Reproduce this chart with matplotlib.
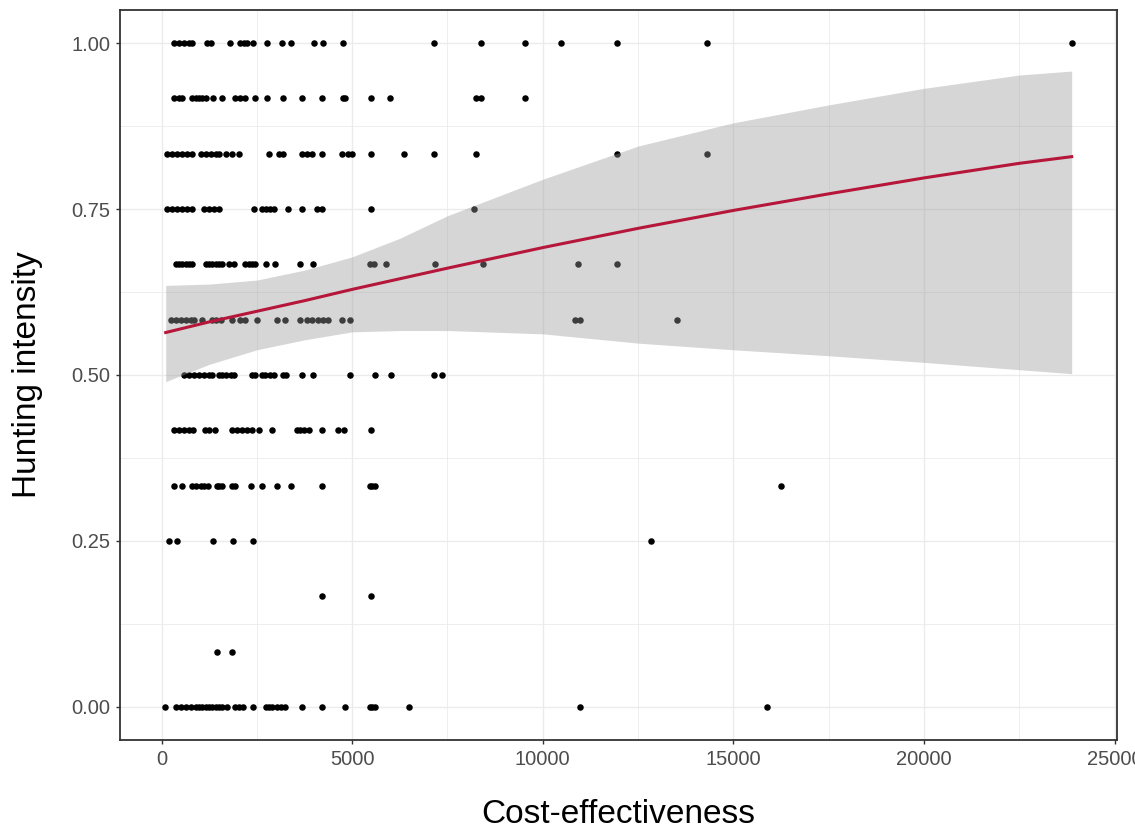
import numpy as np
import matplotlib.pyplot as plt
from matplotlib.ticker import MultipleLocator

plt.rcParams['font.family'] = ['Liberation Sans', 'DejaVu Sans']

# hunting intensity levels (rows of points) and the cost-effectiveness of each point
y_levels = [1.0, 0.917, 0.833, 0.75, 0.667, 0.583, 0.5, 0.417, 0.333, 0.25, 0.167, 0.083, 0.0]

x_100 = [331, 462, 592, 723, 809, 1200, 1287, 1809, 2070, 2158, 2245, 2401, 2767, 3158,
         3401, 4011, 4228, 4750, 7143, 8378, 9529, 10489, 11937, 14311, 23870]
x_092 = [331, 462, 548, 809, 896, 983, 1070, 1157, 1348, 1592, 1940, 2070, 2201, 2462,
         2767, 3175, 3680, 4220, 4768, 4811, 5490, 5985, 8248, 8378, 9529]
x_083 = [157, 287, 418, 548, 679, 809, 1026, 1157, 1287, 1418, 1505, 1679, 1853, 2027,
         2810, 3071, 3175, 3680, 3811, 3941, 4202, 4742, 4898, 4985, 5490, 6360, 7143,
         8248, 11937, 14311]
x_075 = [157, 270, 418, 548, 679, 809, 1113, 1244, 1375, 1505, 2419, 2636, 2740, 2854,
         2940, 3315, 3680, 4072, 4202, 5490, 8204]
x_067 = [374, 462, 548, 634, 723, 809, 1157, 1244, 1331, 1418, 1505, 1592, 1783, 1897,
         2201, 2288, 2375, 2462, 2740, 2967, 3636, 3985, 5463, 5577, 5899, 7160, 8422,
         10934, 11937]
x_058 = [244, 374, 505, 634, 766, 853, 1070, 1331, 1418, 1549, 1853, 2070, 2201, 2506,
         3028, 3245, 3636, 3811, 3941, 4115, 4245, 4376, 4742, 4942, 10838, 10977, 13526]
x_050 = [592, 723, 853, 983, 1113, 1244, 1331, 1505, 1592, 1679, 1810, 1897, 2375, 2462,
         2636, 2723, 2854, 2940, 3175, 3262, 3680, 3985, 4942, 5594, 6029, 7143, 7352]
x_042 = [331, 462, 592, 723, 827, 1140, 1244, 1401, 1853, 1984, 2114, 2245, 2375, 2549,
         2897, 3550, 3636, 3750, 3872, 4202, 4637, 4794, 5490]
x_033 = [331, 548, 809, 896, 1026, 1113, 1227, 1462, 1505, 1592, 1853, 1940, 2358, 2636,
         3028, 3401, 4202, 5463, 5525, 5594, 16257]
x_025 = [200, 400, 1348, 1871, 2401, 12845]
x_017 = [4202, 5490]
x_008 = [1444, 1853]
x_000 = [100, 374, 505, 634, 766, 896, 983, 1070, 1157, 1244, 1331, 1418, 1505, 1592,
         1723, 1940, 2027, 2131, 2401, 2740, 2810, 2897, 3028, 3140, 3245, 3680, 4202,
         4811, 5463, 5525, 5594, 6481, 10977, 15881]

x_rows = [x_100, x_092, x_083, x_075, x_067, x_058, x_050, x_042, x_033, x_025, x_017, x_008, x_000]

# fitted curve and its confidence band
fit_x = [110, 1250, 2500, 3750, 5000, 6250, 7500, 10000, 12500, 15000, 17500, 20000, 22500, 23870]
fit_y = [0.564, 0.580, 0.596, 0.612, 0.629, 0.645, 0.661, 0.692, 0.721, 0.748, 0.773, 0.797, 0.819, 0.829]
fit_lo = [0.490, 0.516, 0.538, 0.553, 0.565, 0.567, 0.567, 0.562, 0.548, 0.538, 0.529, 0.519, 0.508, 0.502]
fit_hi = [0.635, 0.637, 0.643, 0.658, 0.678, 0.706, 0.740, 0.795, 0.845, 0.880, 0.907, 0.932, 0.952, 0.958]

all_x = np.concatenate([np.array(r, dtype=float) for r in x_rows])
all_y = np.concatenate([np.full(len(r), lv) for r, lv in zip(x_rows, y_levels)])

fig = plt.figure(figsize=(11.35, 8.32), dpi=100)
ax = fig.add_axes([120/1135, 92/832, 997/1135, 730/832])

ax.scatter(all_x, all_y, s=22, color='black', linewidths=0, zorder=2)
ax.fill_between(fit_x, fit_lo, fit_hi, color='#999999', alpha=0.4, linewidth=0, zorder=3)
ax.plot(fit_x, fit_y, color='#B5163A', lw=2.2, zorder=4)

# ggplot-like 5% expansion
pad = 0.05 * (all_x.max() - all_x.min())
ax.set_xlim(all_x.min() - pad, all_x.max() + pad)
ax.set_ylim(-0.05, 1.05)

ax.xaxis.set_major_locator(MultipleLocator(5000))
ax.xaxis.set_minor_locator(MultipleLocator(2500))
ax.yaxis.set_major_locator(MultipleLocator(0.25))
ax.yaxis.set_minor_locator(MultipleLocator(0.125))
ax.yaxis.set_major_formatter(plt.FuncFormatter(lambda v, p: f'{v:.2f}'))

ax.grid(which='major', color='#EBEBEB', lw=1.0, zorder=0)
ax.grid(which='minor', color='#EBEBEB', lw=0.6, zorder=0)
ax.set_axisbelow(True)

ax.tick_params(which='major', length=3, width=1, color='#333333', labelcolor='#4D4D4D',
               labelsize=14.5, pad=4)
ax.tick_params(which='minor', length=0)
for s in ax.spines.values():
    s.set_color('#333333')
    s.set_linewidth(1.3)

ax.set_xlabel('Cost-effectiveness', fontsize=24, labelpad=22)
ax.set_ylabel('Hunting intensity', fontsize=24, labelpad=20)

fig.savefig('out.png', dpi=100)
